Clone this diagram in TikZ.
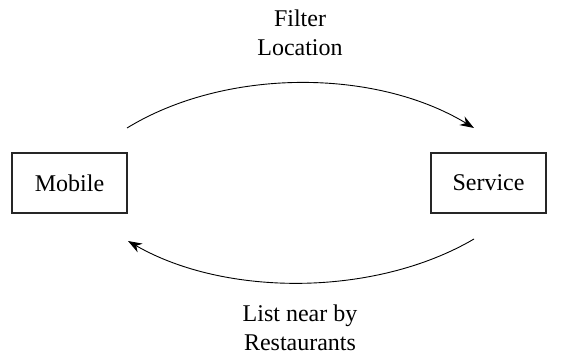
\documentclass[tikz,border=0pt]{standalone}
\usepackage{fontspec}
\setmainfont{Liberation Serif}
\usetikzlibrary{arrows.meta}
\begin{document}
\begin{tikzpicture}[x=1pt,y=-1pt,
  box/.style={draw=black!85,line width=1.1pt,minimum width=115pt,minimum height=60pt,inner sep=0pt,font=\fontsize{24}{28.5}\selectfont},
  lbl/.style={align=center,inner sep=0pt,font=\fontsize{24}{28.5}\selectfont},
  arc/.style={line width=0.9pt,-{Stealth[length=14pt,width=10pt]}}]
\useasboundingbox (0,0) rectangle (579,356);
\node[box] (mobile) at (69.5,183) {Mobile};
\node[box] (service) at (488.5,183) {Service};
\coordinate (a1) at (127,128);
\coordinate (a2) at (474,128);
\coordinate (b1) at (474,239);
\coordinate (b2) at (128,241);
\draw[arc] (a1) .. controls (225,68) and (375,68) .. (a2);
\draw[arc] (b1) .. controls (375,297) and (225,297) .. (b2);
\node[lbl] (top) at (300,33) {Filter\\Location};
\node[lbl] (bot) at (300,328) {List near by\\Restaurants};
\end{tikzpicture}
\end{document}
